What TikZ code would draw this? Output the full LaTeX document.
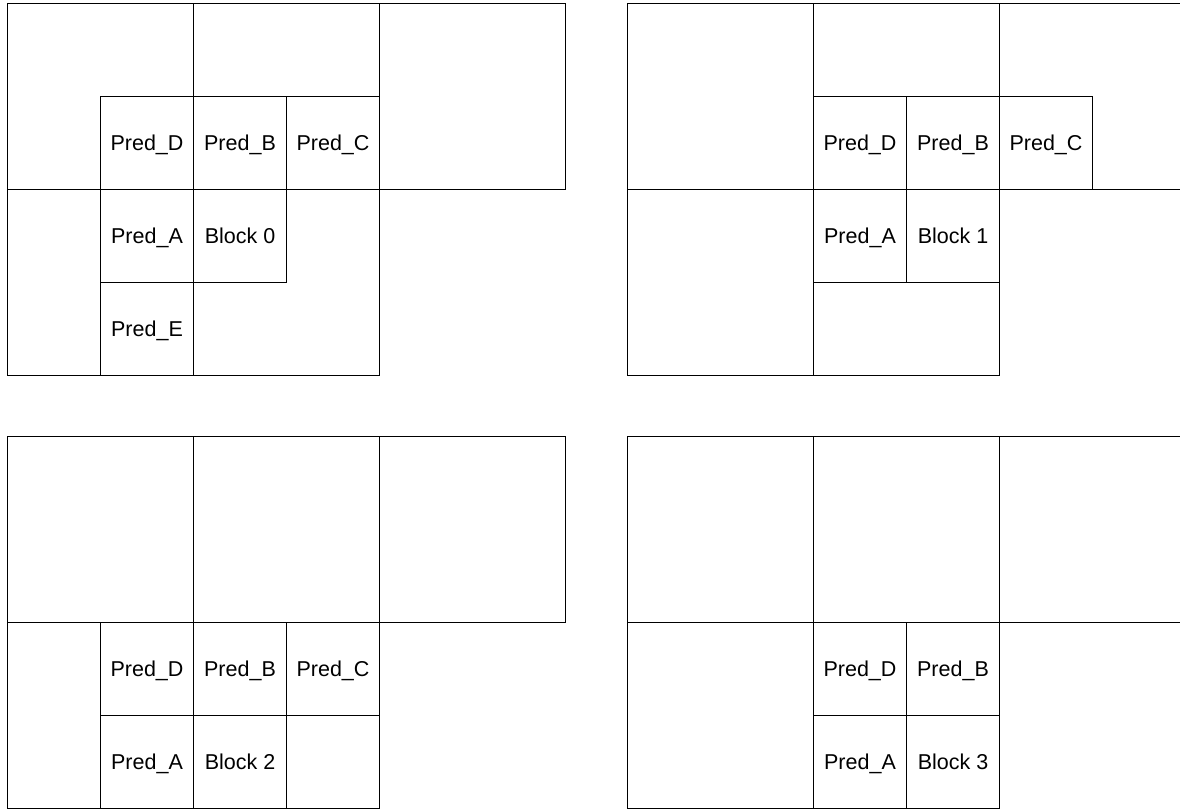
\documentclass[tikz,border=0pt]{standalone}
\usepackage{fontspec}
\setmainfont{Liberation Sans}
\begin{document}
\begin{tikzpicture}[x=1pt,y=-1pt,line width=1pt,
  blk/.style={draw=black},
  cell/.style={draw=black,anchor=north west,minimum width=93pt,minimum height=93pt,inner sep=0pt,
    text height=15.4pt,text depth=0pt,
    font=\fontsize{21.5}{25}\selectfont}]
\useasboundingbox[fill=white] (0,0) rectangle (1180,809);
% ---------- Panel 1 ----------
\draw[blk] (7,3) rectangle (193,189);
\draw[blk] (193,3) rectangle (379,189);
\draw[blk] (379,3) rectangle (565,189);
\draw[blk] (7,189) rectangle (193,375);
\draw[blk] (193,189) rectangle (379,375);
\node[cell] (p1d) at (100,96) {Pred\_D};
\node[cell] (p1b) at (193,96) {Pred\_B};
\node[cell] (p1c) at (286,96) {Pred\_C};
\node[cell] (p1a) at (100,189) {Pred\_A};
\node[cell] (p1x) at (193,189) {Block 0};
\node[cell] (p1e) at (100,282) {Pred\_E};
% ---------- Panel 2 ----------
\draw[blk] (627,3) rectangle (813,189);
\draw[blk] (813,3) rectangle (999,189);
\draw[blk] (999,3) rectangle (1185,189);
\draw[blk] (627,189) rectangle (813,375);
\draw[blk] (813,189) rectangle (999,375);
\node[cell] (p2d) at (813,96) {Pred\_D};
\node[cell] (p2b) at (906,96) {Pred\_B};
\node[cell] (p2c) at (999,96) {Pred\_C};
\node[cell] (p2a) at (813,189) {Pred\_A};
\node[cell] (p2x) at (906,189) {Block 1};
% ---------- Panel 3 ----------
\draw[blk] (7,436) rectangle (193,622);
\draw[blk] (193,436) rectangle (379,622);
\draw[blk] (379,436) rectangle (565,622);
\draw[blk] (7,622) rectangle (193,808);
\draw[blk] (193,622) rectangle (379,808);
\node[cell] (p3d) at (100,622) {Pred\_D};
\node[cell] (p3b) at (193,622) {Pred\_B};
\node[cell] (p3c) at (286,622) {Pred\_C};
\node[cell] (p3a) at (100,715) {Pred\_A};
\node[cell] (p3x) at (193,715) {Block 2};
\node[cell] (p3q) at (286,715) {};
% ---------- Panel 4 ----------
\draw[blk] (627,436) rectangle (813,622);
\draw[blk] (813,436) rectangle (999,622);
\draw[blk] (999,436) rectangle (1185,622);
\draw[blk] (627,622) rectangle (813,808);
\draw[blk] (813,622) rectangle (999,808);
\node[cell] (p4d) at (813,622) {Pred\_D};
\node[cell] (p4b) at (906,622) {Pred\_B};
\node[cell] (p4a) at (813,715) {Pred\_A};
\node[cell] (p4x) at (906,715) {Block 3};
\end{tikzpicture}
\end{document}
